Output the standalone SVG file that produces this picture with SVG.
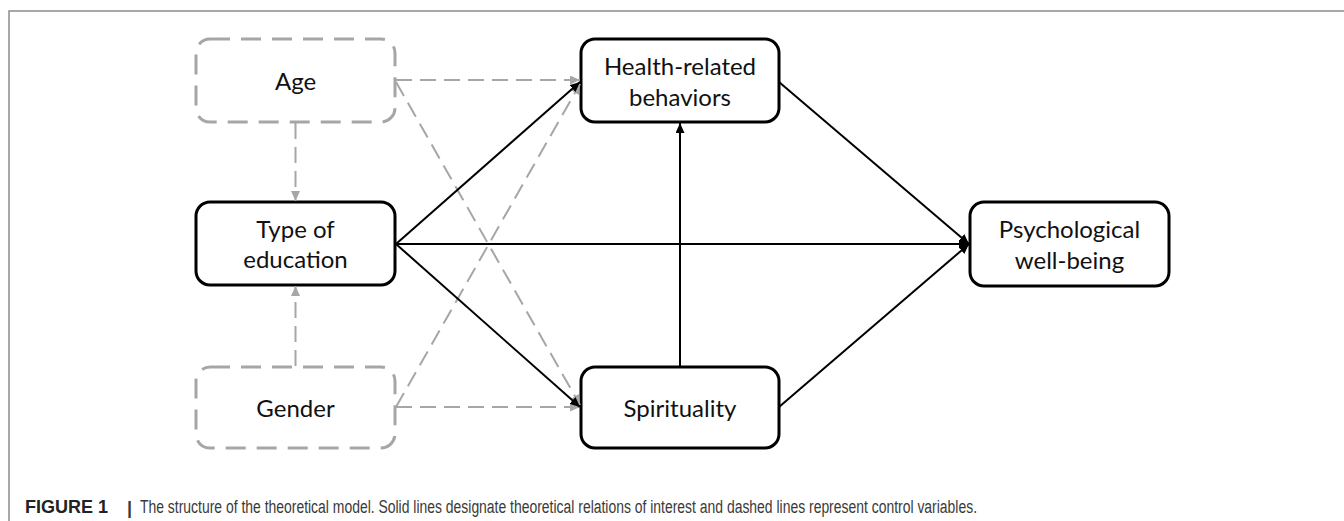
<svg xmlns="http://www.w3.org/2000/svg" width="1344" height="521" viewBox="0 0 1344 521">
  <style>
    .box { fill: #ffffff; stroke: #000000; stroke-width: 3; }
    .ctl { fill: #ffffff; stroke: #a6a6a6; stroke-width: 3; stroke-dasharray: 20 11; }
    .lbl { font-family: "Lato", "Liberation Sans", sans-serif; font-size: 24px; fill: #111111; text-anchor: middle; }
    .solid { stroke: #000000; stroke-width: 2; fill: none; marker-end: url(#ab); }
    .dash { stroke: #a6a6a6; stroke-width: 2; fill: none; stroke-dasharray: 16 8; marker-end: url(#ag); }
    .cap { font-family: "Liberation Sans", Arial, sans-serif; font-size: 18px; fill: #3a3a3a; }
  </style>
  <defs>
    <marker id="ab" markerUnits="userSpaceOnUse" markerWidth="11" markerHeight="9" refX="10" refY="4.5" orient="auto">
      <path d="M0,0 L10,4.5 L0,9 z" fill="#000000"/>
    </marker>
    <marker id="ag" markerUnits="userSpaceOnUse" markerWidth="11" markerHeight="9" refX="10" refY="4.5" orient="auto">
      <path d="M0,0 L10,4.5 L0,9 z" fill="#a6a6a6"/>
    </marker>
  </defs>
  <rect x="0" y="0" width="1344" height="521" fill="#ffffff"/>
  <path d="M9,521 V11 H1344" fill="none" stroke="#8c8c8c" stroke-width="1.5"/>

  <g id="age">
    <rect class="ctl" x="196" y="39" width="199" height="83" rx="14"/>
    <text class="lbl" x="295.5" y="90">Age</text>
  </g>
  <g id="type-of-education">
    <rect class="box" x="196" y="202" width="199" height="83" rx="14"/>
    <text class="lbl" x="295.5" y="238">Type of</text>
    <text class="lbl" x="295.5" y="268">education</text>
  </g>
  <g id="gender">
    <rect class="ctl" x="196" y="367" width="199" height="81" rx="14"/>
    <text class="lbl" x="295.5" y="417">Gender</text>
  </g>
  <g id="health-related-behaviors">
    <rect class="box" x="581" y="39" width="198" height="83" rx="14"/>
    <text class="lbl" x="680" y="75">Health-related</text>
    <text class="lbl" x="680" y="106">behaviors</text>
  </g>
  <g id="spirituality">
    <rect class="box" x="581" y="367" width="198" height="81" rx="14"/>
    <text class="lbl" x="680" y="417">Spirituality</text>
  </g>
  <g id="psychological-well-being">
    <rect class="box" x="970" y="202" width="199" height="84" rx="14"/>
    <text class="lbl" x="1069.5" y="238">Psychological</text>
    <text class="lbl" x="1069.5" y="269">well-being</text>
  </g>

  <g id="connectors">
    <line class="dash" x1="295.5" y1="123" x2="295.5" y2="201"/>
    <line class="dash" x1="295.5" y1="366" x2="295.5" y2="286"/>
    <line class="dash" x1="396" y1="80" x2="580" y2="80"/>
    <line class="dash" x1="396" y1="82" x2="580" y2="405"/>
    <line class="dash" x1="396" y1="407" x2="580" y2="84"/>
    <line class="dash" x1="396" y1="407" x2="580" y2="407"/>
    <line class="solid" x1="396" y1="244" x2="580" y2="82"/>
    <line class="solid" x1="396" y1="244" x2="580" y2="407"/>
    <line class="solid" x1="396" y1="244" x2="969" y2="244"/>
    <line class="solid" x1="680" y1="366" x2="680" y2="123"/>
    <line class="solid" x1="779" y1="82" x2="969" y2="244"/>
    <line class="solid" x1="779" y1="407" x2="969" y2="244"/>
  </g>

  <text class="cap" x="25" y="513"><tspan font-weight="bold" fill="#222222">FIGURE 1</tspan></text>
  <text class="cap" x="127" y="514" font-weight="bold" fill="#444444">|</text>
  <text class="cap" x="140" y="513" textLength="837" lengthAdjust="spacingAndGlyphs">The structure of the theoretical model. Solid lines designate theoretical relations of interest and dashed lines represent control variables.</text>
</svg>
